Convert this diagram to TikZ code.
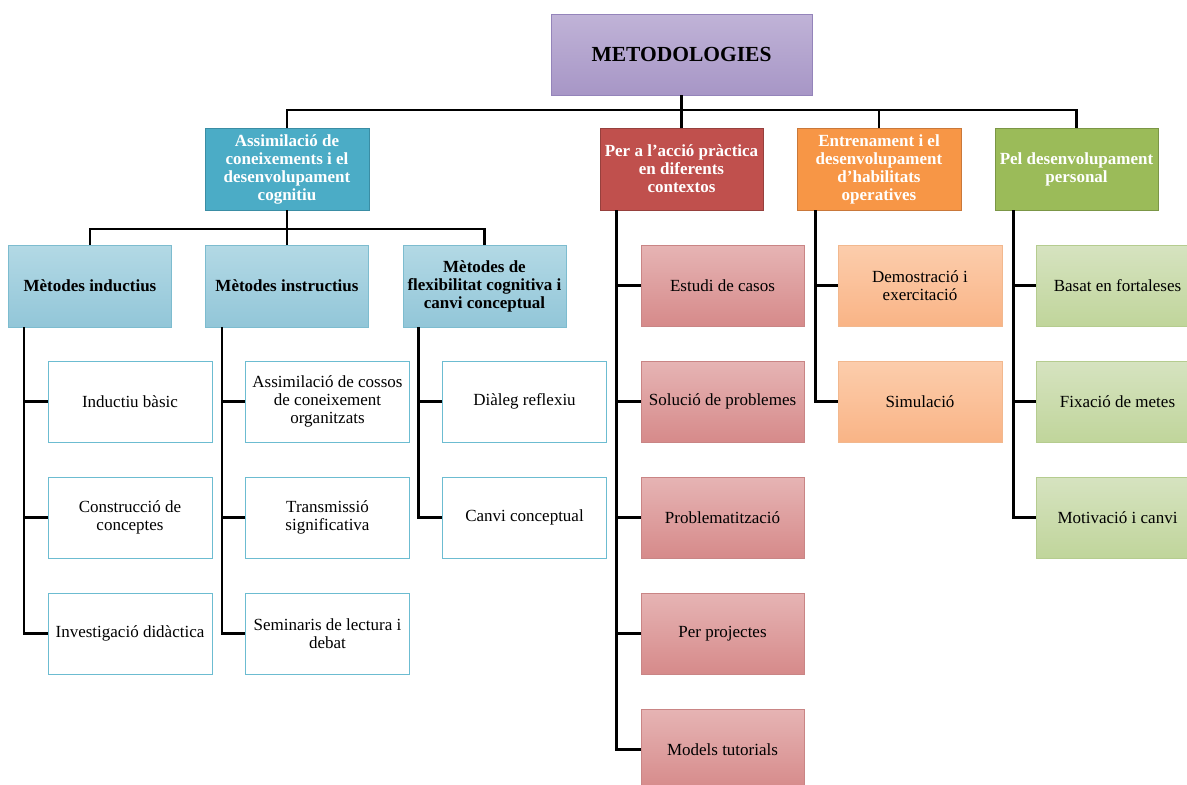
\documentclass[tikz,border=0pt]{standalone}
\usepackage{fontspec}
\setmainfont{Liberation Serif}
\definecolor{rootT}{HTML}{C0B3D7}
\definecolor{rootB}{HTML}{A796C6}
\definecolor{rootD}{HTML}{9484BA}
\definecolor{teal}{HTML}{4BACC6}
\definecolor{tealD}{HTML}{3A8DA4}
\definecolor{redF}{HTML}{C0504D}
\definecolor{redD}{HTML}{96403D}
\definecolor{orF}{HTML}{F79646}
\definecolor{orD}{HTML}{C9783A}
\definecolor{grF}{HTML}{9BBB59}
\definecolor{grD}{HTML}{7B9646}
\definecolor{lbT}{HTML}{B3D9E5}
\definecolor{lbB}{HTML}{92C6D8}
\definecolor{lbD}{HTML}{7DBCCF}
\definecolor{leafD}{HTML}{6CBCD1}
\definecolor{pkT}{HTML}{E6B4B4}
\definecolor{pkB}{HTML}{D68A8A}
\definecolor{pkD}{HTML}{C98585}
\definecolor{loT}{HTML}{FCCDAC}
\definecolor{loB}{HTML}{F9B486}
\definecolor{loD}{HTML}{F2B88E}
\definecolor{lgT}{HTML}{D6E3C0}
\definecolor{lgB}{HTML}{C0D59B}
\definecolor{lgD}{HTML}{B5CC8F}
\begin{document}
\begin{tikzpicture}[x=1pt,y=-1pt,
  base/.style={line width=0.9pt, minimum height=82pt, inner sep=1pt, align=center,
    font=\fontsize{17}{18}\selectfont},
  rootbox/.style={base, top color=rootT, bottom color=rootB, draw=rootD,
    minimum width=261pt, minimum height=81pt, font=\fontsize{21.5}{24}\selectfont\bfseries},
  catA/.style={base, fill=teal, draw=tealD, text=white, minimum width=164pt, font=\fontsize{17}{18}\selectfont\bfseries},
  catP/.style={base, fill=redF, draw=redD, text=white, minimum width=163pt, font=\fontsize{17}{18}\selectfont\bfseries},
  catE/.style={base, fill=orF, draw=orD, text=white, minimum width=164pt, font=\fontsize{17}{18}\selectfont\bfseries},
  catD/.style={base, fill=grF, draw=grD, text=white, minimum width=163pt, font=\fontsize{17}{18}\selectfont\bfseries},
  subbox/.style={base, top color=lbT, bottom color=lbB, draw=lbD, minimum width=163pt, font=\fontsize{17}{18}\selectfont\bfseries},
  leafW/.style={base, fill=white, draw=leafD, minimum width=164pt, minimum height=81pt},
  leafP/.style={base, top color=pkT, bottom color=pkB, draw=pkD, minimum width=163pt, minimum height=81pt},
  leafO/.style={base, top color=loT, bottom color=loB, draw=loD, minimum width=164pt, minimum height=81pt},
  leafG/.style={base, top color=lgT, bottom color=lgB, draw=lgD, minimum width=163pt, minimum height=81pt},
  conn/.style={line width=2.3pt, black}
]
\useasboundingbox (0,0) rectangle (1187,785);
\clip (0,0) rectangle (1187,785);

% root
\node[rootbox] (root) at (681.5,54.5) {METODOLOGIES};

% level 1
\node[catA] (A) at (287,169) {Assimilació de\\coneixements i el\\desenvolupament\\cognitiu};
\node[catP] (P) at (681.5,169) {Per a l’acció pràctica\\en diferents\\contextos};
\node[catE] (E) at (879,169) {Entrenament i el\\desenvolupament\\d’habilitats\\operatives};
\node[catD] (D) at (1076.5,169) {Pel desenvolupament\\personal};

% level 2
\node[subbox] (M1) at (90,286) {Mètodes inductius};
\node[subbox] (M2) at (287,286) {Mètodes instructius};
\node[subbox] (M3) at (484.5,286) {Mètodes de\\flexibilitat cognitiva i\\canvi conceptual};

% leaves column 1
\node[leafW] (I1) at (130,401.5) {Inductiu bàsic};
\node[leafW] (I2) at (130,517.5) {Construcció de\\conceptes};
\node[leafW] (I3) at (130,633.5) {Investigació didàctica};
% column 2
\node[leafW] (S1) at (327.5,401.5) {Assimilació de cossos\\de coneixement\\organitzats};
\node[leafW] (S2) at (327.5,517.5) {Transmissió\\significativa};
\node[leafW] (S3) at (327.5,633.5) {Seminaris de lectura i\\debat};
% column 3
\node[leafW] (F1) at (524.5,401.5) {Diàleg reflexiu};
\node[leafW] (F2) at (524.5,517.5) {Canvi conceptual};
% red column
\node[leafP] (R1) at (722.5,285.5) {Estudi de casos};
\node[leafP] (R2) at (722.5,401.5) {Solució de problemes};
\node[leafP] (R3) at (722.5,517.5) {Problematització};
\node[leafP] (R4) at (722.5,633.5) {Per projectes};
\node[leafP] (R5) at (722.5,749.5) {Models tutorials};
% orange column
\node[leafO] (O1) at (920,285.5) {Demostració i\\exercitació};
\node[leafO] (O2) at (920,401.5) {Simulació};
% green column
\node[leafG] (G1) at (1117.5,285.5) {Basat en fortaleses};
\node[leafG] (G2) at (1117.5,401.5) {Fixació de metes};
\node[leafG] (G3) at (1117.5,517.5) {Motivació i canvi};

% top bus
\coordinate (b1) at (681.5,110);
\draw[conn] (root.south) -- (b1);
\draw[conn] (A.north) |- (b1) -| (D.north);
\draw[conn] (P.north) -- (P.north |- b1);
\draw[conn] (E.north) -- (E.north |- b1);

% second bus
\coordinate (b2) at (287,229);
\draw[conn] (A.south) -- (b2);
\draw[conn] (M1.north) |- (b2) -| (M3.north);
\draw[conn] (M2.north) -- (M2.north |- b2);

% trunks
\coordinate (t1) at ([xshift=16pt]M1.south west);
\draw[conn] (t1) |- (I3.west);
\foreach \n in {I1,I2} \draw[conn] (\n.west) -- (\n.west -| t1);

\coordinate (t2) at ([xshift=17pt]M2.south west);
\draw[conn] (t2) |- (S3.west);
\foreach \n in {S1,S2} \draw[conn] (\n.west) -- (\n.west -| t2);

\coordinate (t3) at ([xshift=16pt]M3.south west);
\draw[conn] (t3) |- (F2.west);
\draw[conn] (F1.west) -- (F1.west -| t3);

\coordinate (t4) at ([xshift=17pt]P.south west);
\draw[conn] (t4) |- (R5.west);
\foreach \n in {R1,R2,R3,R4} \draw[conn] (\n.west) -- (\n.west -| t4);

\coordinate (t5) at ([xshift=19pt]E.south west);
\draw[conn] (t5) |- (O2.west);
\draw[conn] (O1.west) -- (O1.west -| t5);

\coordinate (t6) at ([xshift=19pt]D.south west);
\draw[conn] (t6) |- (G3.west);
\foreach \n in {G1,G2} \draw[conn] (\n.west) -- (\n.west -| t6);
\end{tikzpicture}
\end{document}
